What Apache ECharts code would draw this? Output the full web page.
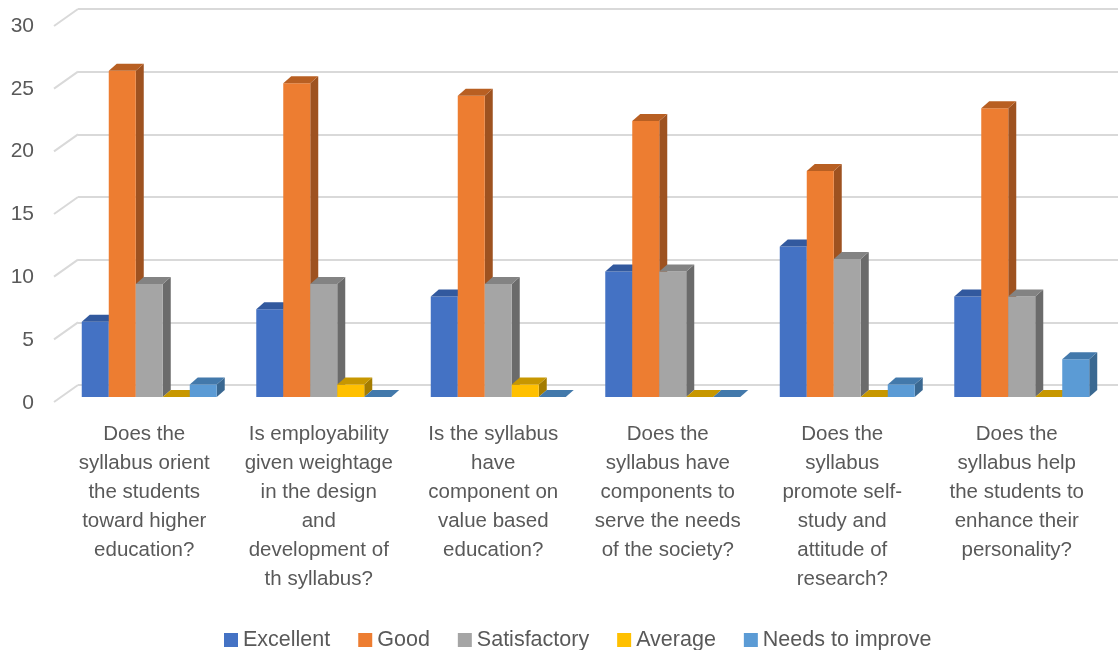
<!DOCTYPE html>
<html><head><meta charset="utf-8">
<script src="https://cdn.jsdelivr.net/npm/echarts@6/dist/echarts.min.js"></script>
<style>html,body{margin:0;padding:0;background:#fff}#c{width:1118px;height:650px}</style>
</head><body><div id="c"></div>
<script>
var categories = [
  "Does the\nsyllabus orient\nthe students\ntoward higher\neducation?",
  "Is employability\ngiven weightage\nin the design\nand\ndevelopment of\nth syllabus?",
  "Is the syllabus\nhave\ncomponent on\nvalue based\neducation?",
  "Does the\nsyllabus have\ncomponents to\nserve the needs\nof the society?",
  "Does the\nsyllabus\npromote self-\nstudy and\nattitude of\nresearch?",
  "Does the\nsyllabus help\nthe students to\nenhance their\npersonality?"
];
var seriesNames = ["Excellent", "Good", "Satisfactory", "Average", "Needs to improve"];
var excellent = [6, 7, 8, 10, 12, 8];
var good = [26, 25, 24, 22, 18, 23];
var satisfactory = [9, 9, 9, 10, 11, 8];
var average = [0, 1, 1, 0, 0, 0];
var needsToImprove = [1, 0, 0, 0, 1, 3];
var yTicks = [0, 5, 10, 15, 20, 25, 30];

var seriesValues = [excellent, good, satisfactory, average, needsToImprove];
var faceColors = [
  {front: '#4472C4', top: '#32599E', side: '#2F5597'},
  {front: '#ED7D31', top: '#B85F22', side: '#9E5220'},
  {front: '#A5A5A5', top: '#838383', side: '#6B6B6B'},
  {front: '#FFC000', top: '#C79700', side: '#A47C00'},
  {front: '#5B9BD5', top: '#4379AB', side: '#3A6891'}
];
var FONT = '"Liberation Sans", Arial, sans-serif';
var DX = 8, DY = 7;

function barRender(k) {
  return function (params, api) {
    var cat = api.value(0), v = api.value(1);
    var base = api.coord([cat, 0]);
    var top = api.coord([cat, v]);
    var band = api.size([1, 0])[0];
    var w = band * 0.1547;
    var x = base[0] - w * 5 / 2 + k * w;
    var yb = base[1], yt = top[1];
    var c = faceColors[k];
    var children = [];
    if (yb - yt > 0.5) {
      children.push({type: 'polygon', shape: {points: [[x + w, yt], [x + w + DX, yt - DY], [x + w + DX, yb - DY], [x + w, yb]]}, style: {fill: c.side}});
      children.push({type: 'rect', shape: {x: x, y: yt, width: w, height: yb - yt}, style: {fill: c.front}});
    }
    children.push({type: 'polygon', shape: {points: [[x, yt], [x + w, yt], [x + w + DX, yt - DY], [x + DX, yt - DY]]}, style: {fill: c.top}});
    return {type: 'group', children: children};
  };
}

var series = [{
  type: 'custom', xAxisIndex: 0, yAxisIndex: 0, silent: true,
  data: yTicks.map(function (t) { return [0, t]; }),
  renderItem: function (params, api) {
    var p = api.coord([0, api.value(1)]);
    var x0 = params.coordSys.x;
    return {type: 'line', shape: {x1: x0 - 24, y1: p[1] + 17, x2: x0, y2: p[1]}, style: {stroke: '#D9D9D9', lineWidth: 2}};
  }
}];
seriesValues.forEach(function (vals, k) {
  series.push({
    type: 'custom', name: seriesNames[k], xAxisIndex: 2, yAxisIndex: 2,
    itemStyle: {color: faceColors[k].front},
    data: vals.map(function (v, i) { return [i, v]; }),
    encode: {x: 0, y: 1},
    renderItem: barRender(k)
  });
});

var chart = echarts.init(document.getElementById('c'), null, {renderer: 'canvas'});
chart.setOption({
  animation: false,
  backgroundColor: '#ffffff',
  legend: {
    data: seriesNames, left: 219, top: 624, icon: 'rect', itemWidth: 14, itemHeight: 14, itemGap: 28,
    textStyle: {fontFamily: FONT, fontSize: 21.5, color: '#595959'}
  },
  grid: [
    {left: 78, right: 0, top: 9, bottom: 265},
    {left: 54, right: 0, top: 26, bottom: 247},
    {left: 62, right: 9, top: 20.5, bottom: 253}
  ],
  xAxis: [
    {type: 'category', gridIndex: 0, data: categories, show: false},
    {type: 'category', gridIndex: 1, data: categories, show: false},
    {type: 'category', gridIndex: 2, data: categories, axisLine: {show: false}, axisTick: {show: false},
     axisLabel: {interval: 0, margin: 23, fontFamily: FONT, fontSize: 20.5, lineHeight: 29, color: '#595959', verticalAlign: 'top', padding: [0, 10, 0, 0]}}
  ],
  yAxis: [
    {type: 'value', gridIndex: 0, min: 0, max: 30, interval: 5, axisLabel: {show: false}, axisLine: {show: false}, axisTick: {show: false},
     splitLine: {lineStyle: {color: '#D9D9D9', width: 2}}},
    {type: 'value', gridIndex: 1, min: 0, max: 30, interval: 5, splitLine: {show: false}, axisLine: {show: false}, axisTick: {show: false},
     axisLabel: {margin: 20, fontFamily: FONT, fontSize: 21, color: '#595959'}},
    {type: 'value', gridIndex: 2, min: 0, max: 30, interval: 5, show: false, splitLine: {show: false}}
  ],
  series: series
});
</script></body></html>
